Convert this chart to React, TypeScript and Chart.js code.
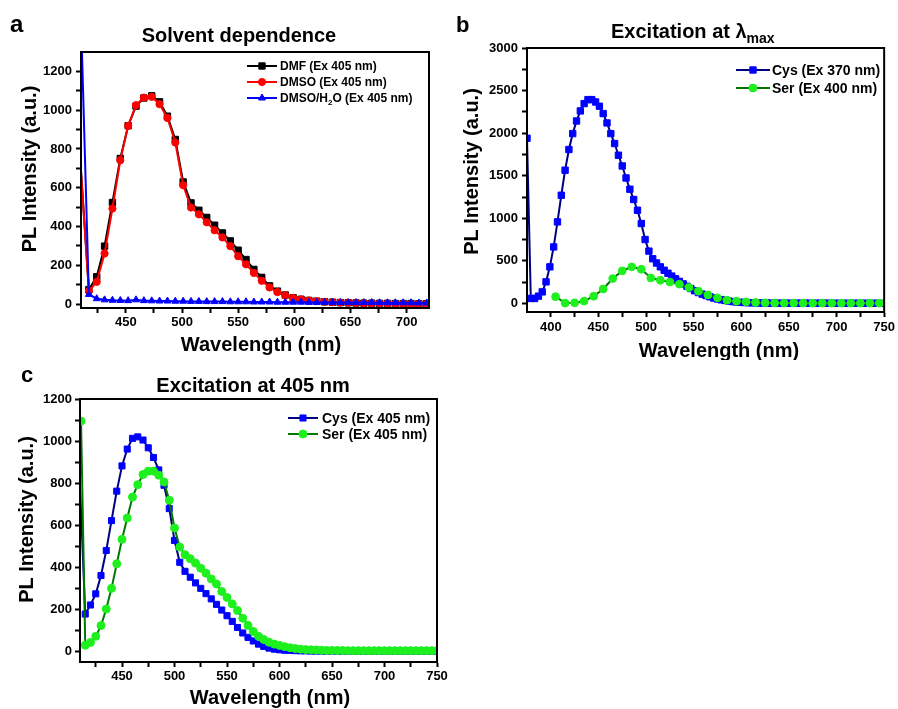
import React, { useEffect, useRef } from 'react';
import { Chart, registerables } from 'chart.js';

Chart.register(...registerables);

const FONT = '"Liberation Sans", Arial, Helvetica, sans-serif';

// ---------------- Panel a: Solvent dependence ----------------
const aWavelength = [403, 417, 424, 431, 438, 445, 452, 459, 466, 473, 480, 487, 494, 501, 508, 515, 522, 529, 536, 543, 550, 557, 564, 571, 578, 585, 592, 599, 606, 613, 620, 627, 634, 641, 648, 655, 662, 669, 676, 683, 690, 697, 704, 711, 718];
const aDMF = [1300, 75, 141, 299, 524, 751, 920, 1021, 1063, 1074, 1043, 969, 849, 630, 522, 484, 447, 407, 367, 326, 278, 230, 179, 138, 94, 67, 47, 33, 25, 19, 15, 12, 10, 8, 7, 6, 5, 5, 4, 4, 3, 3, 3, 2, 2];
const aDMSO = [1300, 67, 115, 261, 493, 742, 919, 1026, 1065, 1069, 1031, 960, 833, 613, 498, 463, 422, 381, 344, 299, 247, 205, 161, 120, 86, 62, 45, 32, 24, 19, 15, 12, 10, 8, 7, 6, 5, 4, 3, 3, 2, 2, 1, 1, 1];
const aDMSOH2O = [2900, 50, 28, 22, 20, 19, 18, 22, 18, 17, 16, 16, 15, 15, 14, 14, 13, 13, 13, 12, 12, 12, 11, 11, 11, 10, 10, 10, 10, 9, 9, 9, 9, 8, 8, 8, 8, 8, 7, 7, 7, 7, 7, 6, 6];
const aXTicks = [425, 450, 475, 500, 525, 550, 575, 600, 625, 650, 675, 700];
const aXLabels = [450, 500, 550, 600, 650, 700];
const aYTicks = [0, 100, 200, 300, 400, 500, 600, 700, 800, 900, 1000, 1100, 1200];
const aYLabels = [0, 200, 400, 600, 800, 1000, 1200];

// ---------------- Panel b: Excitation at lambda max ----------------
const bCysWavelength = [375, 379, 383, 387, 391, 395, 399, 403, 407, 411, 415, 419, 423, 427, 431, 435, 439, 443, 447, 451, 455, 459, 463, 467, 471, 475, 479, 483, 487, 491, 495, 499, 503, 507, 511, 515, 519, 523, 527, 531, 535, 539, 543, 547, 551, 555, 559, 563, 567, 571, 575, 579, 583, 587, 591, 595, 599, 603, 607, 611, 615, 619, 623, 627, 631, 635, 639, 643, 647, 651, 655, 659, 663, 667, 671, 675, 679, 683, 687, 691, 695, 699, 703, 707, 711, 715, 719, 723, 727, 731, 735, 739, 743, 747];
const bCys = [1940, 59, 59, 86, 136, 254, 430, 664, 958, 1271,
  1565, 1808, 1995, 2143, 2261, 2347, 2394, 2394, 2366, 2316,
  2230, 2120, 1995, 1878, 1741, 1615, 1474, 1342, 1221, 1095,
  939, 751, 615, 525, 475, 430, 390, 355, 322, 290,
  260, 230, 202, 176, 150, 128, 110, 93, 78, 65,
  53, 43, 35, 28, 22, 18, 14, 11, 9, 8,
  7, 6, 5, 5, 4, 4, 4, 3, 3, 3,
  3, 3, 3, 3, 3, 3, 3, 3, 3, 3,
  2, 2, 2, 2, 2, 2, 2, 2, 2, 2,
  2, 2, 2, 2];
const bSerWavelength = [405, 415, 425, 435, 445, 455, 465, 475, 485, 495, 505, 515, 525, 535, 545, 555, 565, 575, 585, 595, 605, 615, 625, 635, 645, 655, 665, 675, 685, 695, 705, 715, 725, 735, 745];
const bSer = [80, 5, 8, 28, 85, 170, 293, 383, 430, 402, 300, 273, 252, 227, 188, 144, 101, 66, 39, 27, 19, 12, 8, 6, 5, 5, 4, 4, 4, 4, 4, 4, 4, 4, 4];
const bXTicks = [400, 425, 450, 475, 500, 525, 550, 575, 600, 625, 650, 675, 700, 725, 750];
const bXLabels = [400, 450, 500, 550, 600, 650, 700, 750];
const bYTicks = [0, 250, 500, 750, 1000, 1250, 1500, 1750, 2000, 2250, 2500, 2750, 3000];
const bYLabels = [0, 500, 1000, 1500, 2000, 2500, 3000];

// ---------------- Panel c: Excitation at 405 nm ----------------
const cCysWavelength = [405, 415, 420, 425, 430, 435, 440, 445, 450, 455, 460, 465, 470, 475, 480, 485, 490, 495, 500, 505, 510, 515, 520, 525, 530, 535, 540, 545, 550, 555, 560, 565, 570, 575, 580, 585, 590, 595, 600, 605, 610, 615, 620, 625, 630, 635, 640, 645, 650, 655, 660, 665, 670, 675, 680, 685, 690, 695, 700, 705, 710, 715, 720, 725, 730, 735, 740, 745, 750];
const cCys = [1400, 178, 221, 274, 361, 480, 622, 762, 882, 962,
  1013, 1020, 1005, 968, 922, 863, 790, 679, 528, 424,
  381, 353, 326, 300, 275, 250, 224, 197, 170, 143,
  114, 88, 67, 50, 35, 24, 16, 11, 8, 6,
  5, 4, 3, 3, 2, 2, 2, 2, 2, 2,
  2, 2, 2, 2, 2, 2, 2, 2, 2, 2,
  2, 2, 2, 2, 2, 2, 2, 2, 2];
const cSerWavelength = [411, 415, 420, 425, 430, 435, 440, 445, 450, 455, 460, 465, 470, 475, 480, 485, 490, 495, 500, 505, 510, 515, 520, 525, 530, 535, 540, 545, 550, 555, 560, 565, 570, 575, 580, 585, 590, 595, 600, 605, 610, 615, 620, 625, 630, 635, 640, 645, 650, 655, 660, 665, 670, 675, 680, 685, 690, 695, 700, 705, 710, 715, 720, 725, 730, 735, 740, 745, 750];
const cSer = [1095, 30, 43, 72, 123, 202, 300, 417, 533, 634,
  734, 793, 841, 857, 857, 838, 806, 719, 587, 496,
  460, 441, 420, 396, 372, 345, 321, 285, 257, 226,
  195, 158, 124, 95, 72, 57, 44, 35, 29, 23,
  18, 14, 11, 9, 8, 7, 6, 5, 5, 5,
  5, 4, 4, 4, 4, 4, 4, 4, 4, 4,
  4, 4, 4, 4, 4, 4, 4, 4, 4];
const cXTicks = [425, 450, 475, 500, 525, 550, 575, 600, 625, 650, 675, 700, 725, 750];
const cXLabels = [450, 500, 550, 600, 650, 700, 750];
const cYTicks = [0, 100, 200, 300, 400, 500, 600, 700, 800, 900, 1000, 1100, 1200];
const cYLabels = [0, 200, 400, 600, 800, 1000, 1200];

// ---------------- colours ----------------
const BLACK = '#000000';
const RED = '#ff0000';
const BLUE = '#0000ff';
const NAVY = '#000080';
const DKGREEN = '#007800';
const LIME = '#1ef01e';

type Part = { text: string; size?: number; dy?: number };

function drawParts(ctx: CanvasRenderingContext2D, parts: Part[], x: number, y: number, align: string, base: number) {
  let total = 0;
  const widths: number[] = [];
  for (const p of parts) {
    ctx.font = `bold ${p.size || base}px ${FONT}`;
    const w = ctx.measureText(p.text).width;
    widths.push(w);
    total += w;
  }
  let cx = align === 'center' ? x - total / 2 : x;
  ctx.textAlign = 'left';
  ctx.textBaseline = 'alphabetic';
  parts.forEach((p, i) => {
    ctx.font = `bold ${p.size || base}px ${FONT}`;
    ctx.fillText(p.text, cx, y + (p.dy || 0));
    cx += widths[i];
  });
}

function drawMarker(ctx: CanvasRenderingContext2D, style: string, x: number, y: number, r: number, color: string) {
  ctx.save();
  ctx.fillStyle = color;
  ctx.strokeStyle = color;
  ctx.lineWidth = 1;
  ctx.beginPath();
  if (style === 'rect') {
    const s = r * Math.SQRT1_2;
    ctx.rect(x - s, y - s, 2 * s, 2 * s);
  } else if (style === 'triangle') {
    for (let k = 0; k < 3; k++) {
      const ang = (k * 2 * Math.PI) / 3;
      const px = x + Math.sin(ang) * r;
      const py = y - Math.cos(ang) * r;
      if (k === 0) ctx.moveTo(px, py);
      else ctx.lineTo(px, py);
    }
    ctx.closePath();
  } else {
    ctx.arc(x, y, r, 0, Math.PI * 2);
  }
  ctx.fill();
  ctx.stroke();
  ctx.restore();
}

type LegendRow = { y: number; line: string; fill: string; style: string; r: number; parts: Part[] };
type Decor = {
  letter: { text: string; x: number; y: number; size: number };
  title: { parts: Part[]; x: number; y: number; align: string };
  xTitle: { text: string; x: number; y: number };
  yTitle: { text: string; x: number; y: number };
  legend: { x0: number; x1: number; textX: number; size: number; rows: LegendRow[] };
};

function decor(d: Decor) {
  return {
    id: 'decor',
    afterDatasetsDraw(chart: any) {
      const ctx: CanvasRenderingContext2D = chart.ctx;
      const a = chart.chartArea;
      ctx.save();
      ctx.strokeStyle = BLACK;
      ctx.lineWidth = 2;
      ctx.strokeRect(a.left, a.top, a.right - a.left, a.bottom - a.top);
      const L = d.legend;
      for (const row of L.rows) {
        ctx.strokeStyle = row.line;
        ctx.lineWidth = 2;
        ctx.beginPath();
        ctx.moveTo(L.x0, row.y);
        ctx.lineTo(L.x1, row.y);
        ctx.stroke();
        drawMarker(ctx, row.style, (L.x0 + L.x1) / 2, row.y, row.r, row.fill);
        ctx.fillStyle = BLACK;
        drawParts(ctx, row.parts, L.textX, row.y + L.size * 0.36, 'left', L.size);
      }
      ctx.restore();
    },
    afterDraw(chart: any) {
      const ctx: CanvasRenderingContext2D = chart.ctx;
      ctx.save();
      ctx.fillStyle = BLACK;
      ctx.textBaseline = 'alphabetic';
      ctx.textAlign = 'left';
      ctx.font = `bold ${d.letter.size}px ${FONT}`;
      ctx.fillText(d.letter.text, d.letter.x, d.letter.y);
      drawParts(ctx, d.title.parts, d.title.x, d.title.y, d.title.align, 20);
      ctx.font = `bold 20px ${FONT}`;
      ctx.textAlign = 'center';
      ctx.textBaseline = 'alphabetic';
      ctx.fillText(d.xTitle.text, d.xTitle.x, d.xTitle.y);
      ctx.translate(d.yTitle.x, d.yTitle.y);
      ctx.rotate(-Math.PI / 2);
      ctx.fillText(d.yTitle.text, 0, 0);
      ctx.restore();
    },
  };
}

function series(label: string, xs: number[], ys: number[], line: string, fill: string, style: string, r: number, order: number) {
  return {
    label,
    data: xs.map((x, i) => ({ x, y: ys[i] })),
    borderColor: line,
    backgroundColor: fill,
    borderWidth: 2,
    pointStyle: style,
    pointRadius: r,
    pointBackgroundColor: fill,
    pointBorderColor: fill,
    pointBorderWidth: 1,
    tension: 0,
    fill: false,
    order,
  };
}

type PanelSpec = {
  datasets: any[];
  xMin: number; xMax: number; xTicks: number[]; xLabels: number[];
  yMin: number; yMax: number; yTicks: number[]; yLabels: number[];
  padTop: number; padRight: number; yWidth: number; xHeight: number;
  xPad: number; yPad: number;
  decor: Decor;
};

function buildConfig(p: PanelSpec): any {
  const tickFont = { family: FONT, size: 13, weight: 'bold' };
  return {
    type: 'line',
    data: { datasets: p.datasets },
    options: {
      responsive: false,
      animation: false,
      events: [],
      layout: { padding: { left: 0, top: p.padTop, right: p.padRight, bottom: 0 } },
      plugins: { legend: { display: false }, tooltip: { enabled: false }, title: { display: false } },
      scales: {
        x: {
          type: 'linear',
          min: p.xMin,
          max: p.xMax,
          afterBuildTicks: (s: any) => { s.ticks = p.xTicks.map((v) => ({ value: v })); },
          afterFit: (s: any) => { s.height = p.xHeight; },
          ticks: {
            autoSkip: false,
            maxRotation: 0,
            padding: p.xPad,
            color: BLACK,
            font: tickFont,
            callback: (v: number) => (p.xLabels.includes(v) ? String(v) : ''),
          },
          grid: { drawOnChartArea: false, drawTicks: true, tickLength: 5, tickColor: BLACK, tickWidth: 2 },
          border: { display: true, color: BLACK, width: 2 },
        },
        y: {
          type: 'linear',
          min: p.yMin,
          max: p.yMax,
          afterBuildTicks: (s: any) => { s.ticks = p.yTicks.map((v) => ({ value: v })); },
          afterFit: (s: any) => { s.width = p.yWidth; },
          ticks: {
            padding: p.yPad,
            color: BLACK,
            font: tickFont,
            callback: (v: number) => (p.yLabels.includes(v) ? String(v) : ''),
          },
          grid: { drawOnChartArea: false, drawTicks: true, tickLength: 5, tickColor: BLACK, tickWidth: 2 },
          border: { display: true, color: BLACK, width: 2 },
        },
      },
    },
    plugins: [decor(p.decor)],
  };
}

const panelA: PanelSpec = {
  datasets: [
    series('DMF (Ex 405 nm)', aWavelength, aDMF, BLACK, BLACK, 'rect', 4.5, 3),
    series('DMSO (Ex 405 nm)', aWavelength, aDMSO, RED, RED, 'circle', 3.6, 2),
    series('DMSO/H2O (Ex 405 nm)', aWavelength, aDMSOH2O, BLUE, BLUE, 'triangle', 4, 1),
  ],
  xMin: 410, xMax: 720, xTicks: aXTicks, xLabels: aXLabels,
  yMin: -20, yMax: 1300, yTicks: aYTicks, yLabels: aYLabels,
  padTop: 52, padRight: 21, yWidth: 81, xHeight: 52, xPad: 2, yPad: 4,
  decor: {
    letter: { text: 'a', x: 10, y: 32, size: 24 },
    title: { parts: [{ text: 'Solvent dependence' }], x: 239, y: 42, align: 'center' },
    xTitle: { text: 'Wavelength (nm)', x: 261, y: 351 },
    yTitle: { text: 'PL Intensity (a.u.)', x: 35.5, y: 169 },
    legend: {
      x0: 247, x1: 277, textX: 280, size: 12,
      rows: [
        { y: 66, line: BLACK, fill: BLACK, style: 'rect', r: 4.5, parts: [{ text: 'DMF (Ex 405 nm)' }] },
        { y: 82, line: RED, fill: RED, style: 'circle', r: 3.6, parts: [{ text: 'DMSO (Ex 405 nm)' }] },
        { y: 98, line: BLUE, fill: BLUE, style: 'triangle', r: 4, parts: [{ text: 'DMSO/H' }, { text: '2', size: 8, dy: 3 }, { text: 'O (Ex 405 nm)' }] },
      ],
    },
  },
};

const panelB: PanelSpec = {
  datasets: [
    series('Cys (Ex 370 nm)', bCysWavelength, bCys, NAVY, BLUE, 'rect', 4.5, 2),
    series('Ser (Ex 400 nm)', bSerWavelength, bSer, DKGREEN, LIME, 'circle', 3.9, 1),
  ],
  xMin: 375, xMax: 750, xTicks: bXTicks, xLabels: bXLabels,
  yMin: -100, yMax: 3000, yTicks: bYTicks, yLabels: bYLabels,
  padTop: 48, padRight: 11, yWidth: 77, xHeight: 48, xPad: 3, yPad: 4,
  decor: {
    letter: { text: 'b', x: 6, y: 32, size: 22 },
    title: { parts: [{ text: 'Excitation at λ' }, { text: 'max', size: 14, dy: 5 }], x: 161, y: 38, align: 'left' },
    xTitle: { text: 'Wavelength (nm)', x: 269, y: 357 },
    yTitle: { text: 'PL Intensity (a.u.)', x: 27.5, y: 171.5 },
    legend: {
      x0: 286, x1: 320, textX: 322, size: 14,
      rows: [
        { y: 70, line: NAVY, fill: BLUE, style: 'rect', r: 4.5, parts: [{ text: 'Cys (Ex 370 nm)' }] },
        { y: 88, line: DKGREEN, fill: LIME, style: 'circle', r: 3.9, parts: [{ text: 'Ser (Ex 400 nm)' }] },
      ],
    },
  },
};

const panelC: PanelSpec = {
  datasets: [
    series('Cys (Ex 405 nm)', cCysWavelength, cCys, NAVY, BLUE, 'rect', 4.3, 2),
    series('Ser (Ex 405 nm)', cSerWavelength, cSer, DKGREEN, LIME, 'circle', 4, 1),
  ],
  xMin: 410, xMax: 750, xTicks: cXTicks, xLabels: cXLabels,
  yMin: -50, yMax: 1200, yTicks: cYTicks, yLabels: cYLabels,
  padTop: 39, padRight: 13, yWidth: 80, xHeight: 47, xPad: 2, yPad: 3,
  decor: {
    letter: { text: 'c', x: 21, y: 22, size: 22 },
    title: { parts: [{ text: 'Excitation at 405 nm' }], x: 253, y: 32, align: 'center' },
    xTitle: { text: 'Wavelength (nm)', x: 270, y: 344 },
    yTitle: { text: 'PL Intensity (a.u.)', x: 32.5, y: 159.5 },
    legend: {
      x0: 288, x1: 318, textX: 322, size: 14,
      rows: [
        { y: 58, line: NAVY, fill: BLUE, style: 'rect', r: 4.3, parts: [{ text: 'Cys (Ex 405 nm)' }] },
        { y: 74, line: DKGREEN, fill: LIME, style: 'circle', r: 4, parts: [{ text: 'Ser (Ex 405 nm)' }] },
      ],
    },
  },
};

function Panel({ left, top, width, height, spec }: { left: number; top: number; width: number; height: number; spec: PanelSpec }) {
  const ref = useRef<HTMLCanvasElement>(null);
  useEffect(() => {
    const chart = new Chart(ref.current as HTMLCanvasElement, buildConfig(spec));
    return () => chart.destroy();
  }, []);
  return (
    <canvas
      ref={ref}
      width={width}
      height={height}
      style={{ position: 'absolute', left, top, width, height, display: 'block' }}
    />
  );
}

export default function App() {
  return (
    <div style={{ position: 'absolute', left: 0, top: 0, width: 898, height: 709, overflow: 'hidden', background: '#fff' }}>
      <Panel left={0} top={0} width={450} height={360} spec={panelA} />
      <Panel left={450} top={0} width={448} height={360} spec={panelB} />
      <Panel left={0} top={360} width={450} height={349} spec={panelC} />
    </div>
  );
}
